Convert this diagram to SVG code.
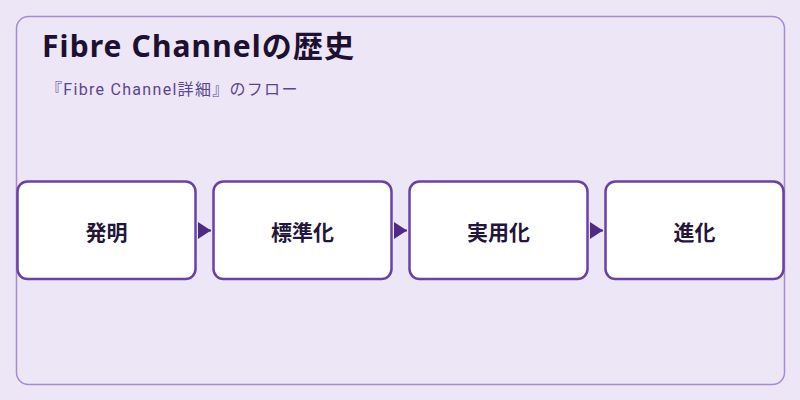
<svg xmlns="http://www.w3.org/2000/svg" width="800" height="400" viewBox="0 0 800 400">
  <defs>
    <style>
      .frame { fill: #ede6f6; stroke: #a68ad6; stroke-width: 1.5; }
      .node rect { fill: #ffffff; stroke: #6a42a6; stroke-width: 2.5; }
      .node text { font-family: "Noto Sans CJK JP", "Noto Sans", sans-serif; font-size: 21px; font-weight: 700; fill: #24163a; text-anchor: middle; }
      .title { font-family: "Noto Sans", "Noto Sans CJK JP", sans-serif; font-size: 30px; font-weight: 700; fill: #1e1030; letter-spacing: 1.1px; }
      .subtitle { font-family: "Roboto", "Noto Sans CJK JP", sans-serif; font-size: 16px; fill: #5a4590; letter-spacing: 1.3px; }
      .conn { stroke: #4e2c86; stroke-width: 2; fill: none; }
    </style>
    <marker id="arrow" markerUnits="userSpaceOnUse" markerWidth="14" markerHeight="18" viewBox="0 0 14 18" refX="13" refY="9" orient="auto">
      <path d="M0,0.5 L13,9 L0,17.5 z" fill="#4e2c86"/>
    </marker>
  </defs>
  <rect width="800" height="400" fill="#ede6f6"/>
  <rect class="frame" x="16.5" y="16.5" width="768" height="368" rx="12"/>
  <text class="title" x="42" y="57">Fibre Channelの歴史</text>
  <text class="subtitle" x="46" y="95">『Fibre Channel詳細』のフロー</text>
  <g id="connectors">
    <line class="conn" x1="198" y1="230.5" x2="211" y2="230.5" marker-end="url(#arrow)"/>
    <line class="conn" x1="394" y1="230.5" x2="407" y2="230.5" marker-end="url(#arrow)"/>
    <line class="conn" x1="590" y1="230.5" x2="603" y2="230.5" marker-end="url(#arrow)"/>
  </g>
  <g id="node-1" class="node">
    <rect x="17.5" y="181.5" width="178" height="97.5" rx="10"/>
    <text x="106.5" y="239.5">発明</text>
  </g>
  <g id="node-2" class="node">
    <rect x="213.5" y="181.5" width="178" height="97.5" rx="10"/>
    <text x="302.5" y="239.5">標準化</text>
  </g>
  <g id="node-3" class="node">
    <rect x="409.5" y="181.5" width="178" height="97.5" rx="10"/>
    <text x="498.5" y="239.5">実用化</text>
  </g>
  <g id="node-4" class="node">
    <rect x="605.5" y="181.5" width="178" height="97.5" rx="10"/>
    <text x="694.5" y="239.5">進化</text>
  </g>
</svg>
